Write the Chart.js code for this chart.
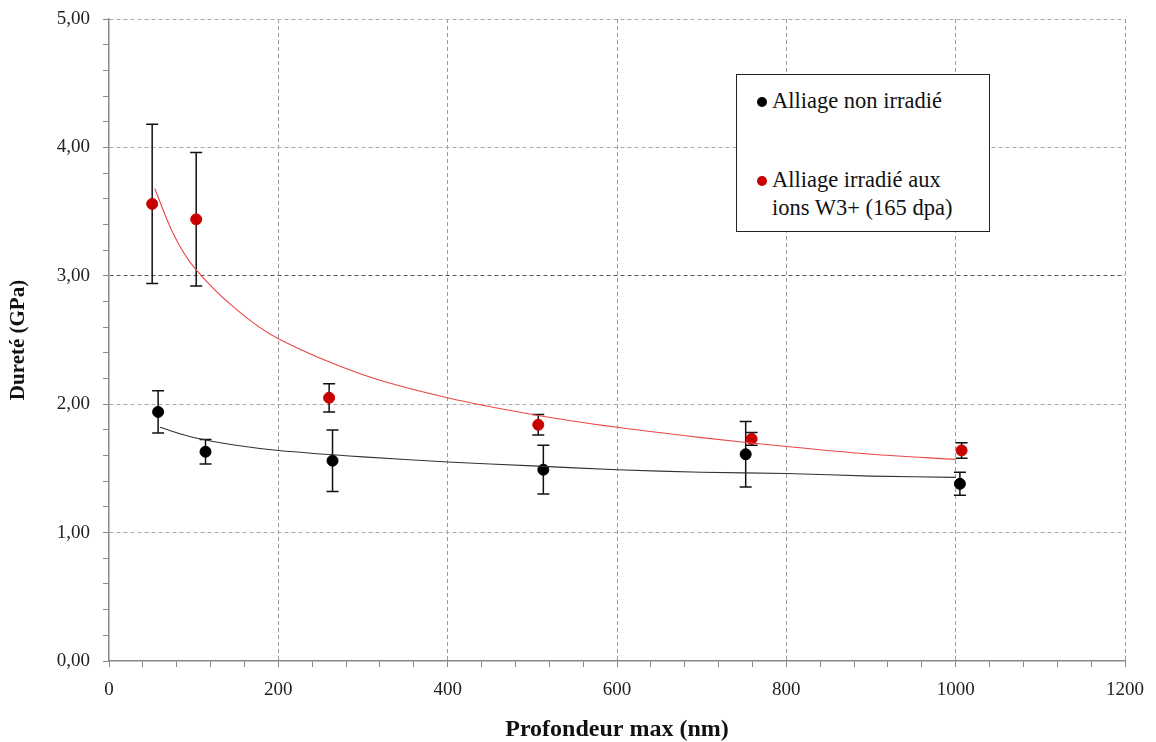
<!DOCTYPE html>
<html>
<head>
<meta charset="utf-8">
<script src="https://cdn.jsdelivr.net/npm/chart.js@4/dist/chart.umd.min.js"></script>
<style>
html,body{margin:0;padding:0;background:#fff}
#wrap{position:relative;width:1156px;height:742px}
#legend{position:absolute;left:736px;top:74px;width:252px;height:156px;border:1px solid #222;background:#fff;font-family:"Liberation Serif","Times New Roman",serif;font-size:22.5px;color:#111}
#legend .it{position:absolute;left:35px;line-height:28px}
#legend .dot{position:absolute;width:10px;height:10px;border-radius:50%}
</style>
</head>
<body>
<div id="wrap">
<canvas id="c" width="1156" height="742"></canvas>
<div id="legend">
  <span class="dot" style="left:20px;top:22px;background:#000"></span>
  <div class="it" style="top:12px">Alliage non irradié</div>
  <span class="dot" style="left:20px;top:101px;background:#c80000"></span>
  <div class="it" style="top:91px">Alliage irradié aux<br>ions W3+ (165 dpa)</div>
</div>
</div>
<script>
// points mesurés (profondeur nm, dureté GPa, écart)
const blackX=[58,114,264,513,752,1005];
const blackY=[1.94,1.63,1.56,1.49,1.61,1.38];
const blackErr=[0.165,0.095,0.24,0.19,0.255,0.09];
const redX=[51,103,260,507,759,1007];
const redY=[3.56,3.44,2.05,1.84,1.73,1.64];
const redErr=[0.62,0.52,0.11,0.08,0.05,0.06];
// courbes de tendance
const blackTrendX=[60,100,150,200,300,400,500,600,700,800,900,1000];
const blackTrendY=[1.82,1.74,1.68,1.64,1.59,1.55,1.52,1.49,1.47,1.46,1.44,1.43];
const redTrendX=[54,75,100,150,200,300,400,500,600,700,800,900,1000];
const redTrendY=[3.68,3.34,3.07,2.74,2.51,2.23,2.05,1.92,1.82,1.74,1.67,1.61,1.57];

function pts(xs,ys){return xs.map((x,i)=>({x,y:ys[i]}))}
function isMajor(v,step){return Math.abs(v/step-Math.round(v/step))<1e-6}

const errorBars={id:'errorBars',beforeDatasetsDraw(chart){
  const {ctx,scales:{x,y}}=chart;
  ctx.save();ctx.strokeStyle='#111';ctx.lineWidth=1.5;
  chart.data.datasets.forEach(ds=>{
    if(!ds.errors) return;
    ds.data.forEach((p,i)=>{
      const px=x.getPixelForValue(p.x),t=y.getPixelForValue(p.y+ds.errors[i]),b=y.getPixelForValue(p.y-ds.errors[i]);
      ctx.beginPath();ctx.moveTo(px,t);ctx.lineTo(px,b);
      ctx.moveTo(px-6,t);ctx.lineTo(px+6,t);ctx.moveTo(px-6,b);ctx.lineTo(px+6,b);ctx.stroke();
    });
  });
  ctx.restore();
}};

const serif='"Liberation Serif","Times New Roman",serif';
new Chart(document.getElementById('c'),{
  type:'scatter',
  data:{datasets:[
    {data:pts(blackTrendX,blackTrendY),showLine:true,borderColor:'#333',borderWidth:1.1,pointRadius:0,tension:0.3},
    {data:pts(redTrendX,redTrendY),showLine:true,borderColor:'#e84848',borderWidth:1.1,pointRadius:0,tension:0.3},
    {data:pts(blackX,blackY),errors:blackErr,backgroundColor:'#000',borderColor:'#000',pointRadius:5.5},
    {data:pts(redX,redY),errors:redErr,backgroundColor:'#c80000',borderColor:'#c80000',pointRadius:5.5}
  ]},
  options:{
    responsive:false,animation:false,
    layout:{padding:{top:19,right:31,left:0,bottom:0}},
    plugins:{legend:{display:false},tooltip:{enabled:false}},
    scales:{
      x:{type:'linear',min:0,max:1200,
        afterFit(s){s.height=81},
        ticks:{stepSize:40,autoSkip:false,maxRotation:0,padding:12,color:'#222',font:{family:serif,size:19},
          callback:v=>isMajor(v,200)?String(v):''},
        grid:{drawOnChartArea:true,tickLength:6,
          color:c=>(c.tick&&isMajor(c.tick.value,200)&&c.tick.value>0)?'#9a9a9a':'transparent',
          tickColor:'#888'},
        border:{color:'#888',width:1.5,dash:[4,3]},
        title:{display:true,text:'Profondeur max (nm)',color:'#111',font:{family:serif,size:24,weight:'bold'},padding:{top:14,bottom:-2}}
      },
      y:{type:'linear',min:0,max:5,
        afterFit(s){s.width=109;s.paddingTop=0;s.paddingBottom=0},
        ticks:{stepSize:0.2,autoSkip:false,padding:13,color:'#222',font:{family:serif,size:19},
          callback:v=>isMajor(v,1)?v.toFixed(2).replace('.',','):''},
        grid:{tickLength:6,
          color:c=>{if(!c.tick||!isMajor(c.tick.value,1)||c.tick.value===0)return 'transparent';return Math.round(c.tick.value)===3?'#555':'#a8a8a8'},
          tickColor:'#888'},
        border:{color:'#888',width:1.5,dash:[4,3]},
        title:{display:true,text:'Dureté (GPa)',color:'#111',font:{family:serif,size:21,weight:'bold'},padding:{top:6,bottom:0}}
      }
    }
  },
  plugins:[errorBars]
});
</script>
</body>
</html>
